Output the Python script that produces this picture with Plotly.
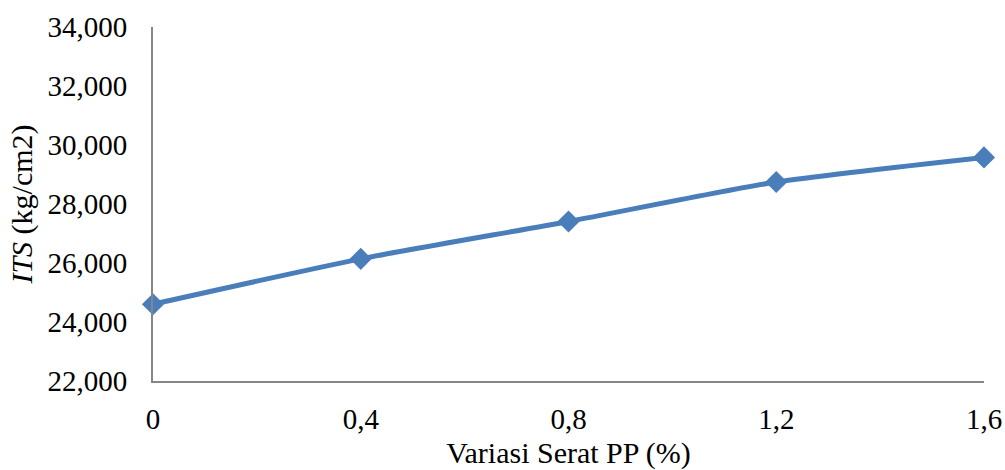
import plotly.graph_objects as go

x_vals = [0, 0.4, 0.8, 1.2, 1.6]
x_labels = ["0", "0,4", "0,8", "1,2", "1,6"]
its_vals = [24604, 26141, 27407, 28745, 29580]
y_ticks = [22000, 24000, 26000, 28000, 30000, 32000, 34000]
y_labels = ["22,000", "24,000", "26,000", "28,000", "30,000", "32,000", "34,000"]

font_family = "Liberation Serif"

fig = go.Figure()
fig.add_trace(go.Scatter(
    x=x_vals, y=its_vals, mode="lines+markers",
    line=dict(color="#4A7EBB", width=5, shape="spline", smoothing=0.6),
    marker=dict(symbol="diamond", size=17, color="#4A7EBB"),
    cliponaxis=False, showlegend=False,
))

fig.update_layout(
    width=1005, height=470,
    margin=dict(l=153, r=21, t=27, b=89),
    paper_bgcolor="white", plot_bgcolor="white",
    font=dict(family=font_family, size=29, color="black"),
    xaxis=dict(
        range=[0, 1.6], tickvals=x_vals, ticktext=x_labels,
        showgrid=False, zeroline=False, showline=True, automargin=False,
        linecolor="#868686", linewidth=2, ticks="",
        tickfont=dict(family=font_family, size=29, color="black"),
        ticklabelstandoff=11,
        title=dict(text="Variasi Serat PP (%)", standoff=13,
                   font=dict(family=font_family, size=30, color="black")),
    ),
    yaxis=dict(
        range=[22000, 34000], tickvals=y_ticks, ticktext=y_labels,
        showgrid=False, zeroline=False, showline=True, automargin=False,
        linecolor="#868686", linewidth=2, ticks="",
        tickfont=dict(family=font_family, size=29, color="black"),
        ticklabelstandoff=18,
        title=dict(text="<i>ITS</i> (kg/cm2)", standoff=6,
                   font=dict(family=font_family, size=30, color="black")),
    ),
)

fig.write_html("out.html")
